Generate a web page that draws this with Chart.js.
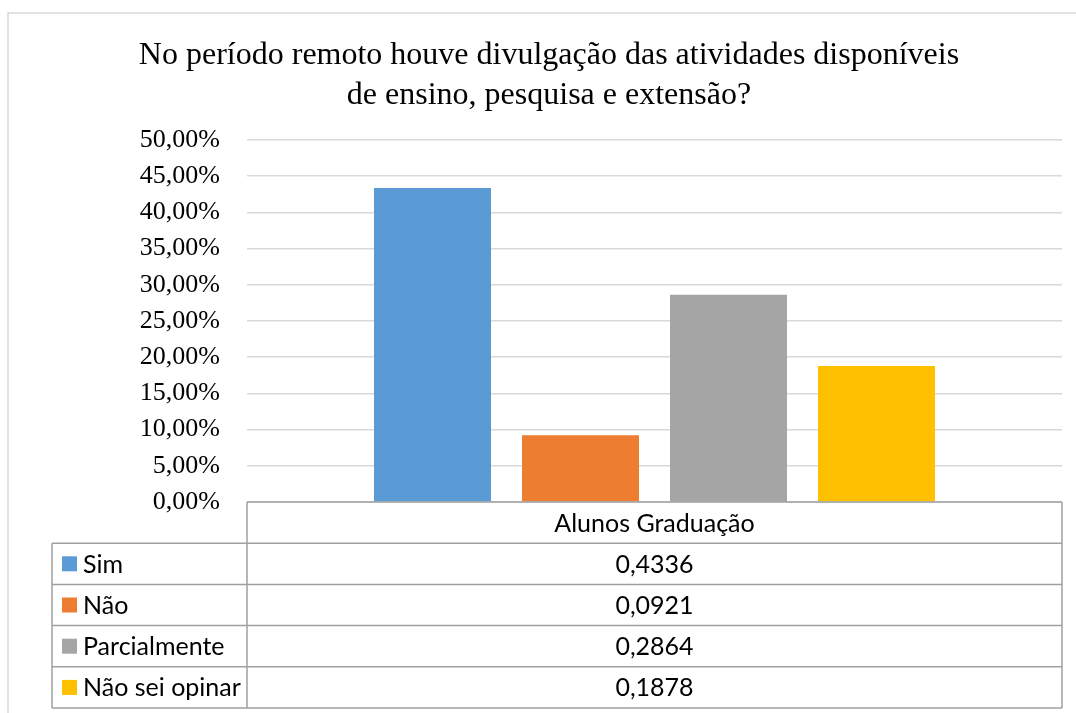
<!DOCTYPE html>
<html>
<head>
<meta charset="utf-8">
<script src="https://cdn.jsdelivr.net/npm/chart.js@4.4.0/dist/chart.umd.min.js"></script>
<style>
  html, body { margin: 0; padding: 0; background: #fff; }
  #wrap { width: 1076px; height: 713px; }
</style>
</head>
<body>
<div id="wrap"><canvas id="chart" width="1076" height="713"></canvas></div>
<script>
// ---- data ----
const categories = ['Alunos Graduação'];
const seriesNames = ['Sim', 'Não', 'Parcialmente', 'Não sei opinar'];
const seriesValues = [0.4336, 0.0921, 0.2864, 0.1878];
const seriesColors = ['#5b9bd5', '#ed7d31', '#a5a5a5', '#ffc000'];
const titleLines = ['No período remoto houve divulgação das atividades disponíveis', 'de ensino, pesquisa e extensão?'];

const tableFont = '25px Lato';

function fmtPct(v) {
    return (v * 100).toFixed(2).replace('.', ',') + '%';
}
function fmtVal(v) {
    return v.toFixed(4).replace('.', ',');
}

// draws the outer frame and the data table under the plot
const dataTable = {
    id: 'dataTable',
    afterDraw(chart) {
        const c = chart.ctx;
        const area = chart.chartArea;
        const left = 52, mid = area.left, right = area.right;
        const top = area.bottom, rowH = 41.2;
        const rows = seriesNames.length;

        c.save();
        // chart frame
        c.strokeStyle = '#d9d9d9';
        c.lineWidth = 1.5;
        c.beginPath();
        c.moveTo(8, 713);
        c.lineTo(8, 13);
        c.lineTo(1076, 13);
        c.stroke();

        // table grid
        c.strokeStyle = '#a0a0a0';
        c.lineWidth = 1.5;
        c.beginPath();
        c.moveTo(mid, top);
        c.lineTo(right, top);
        for (let i = 1; i <= rows + 1; i++) {
            const y = top + i * rowH;
            c.moveTo(left, y);
            c.lineTo(right, y);
        }
        c.moveTo(mid, top);
        c.lineTo(mid, top + (rows + 1) * rowH);
        c.moveTo(right, top);
        c.lineTo(right, top + (rows + 1) * rowH);
        c.moveTo(left, top + rowH);
        c.lineTo(left, top + (rows + 1) * rowH);
        c.stroke();

        // texts
        c.fillStyle = '#000';
        c.font = tableFont;
        c.textBaseline = 'middle';
        c.textAlign = 'center';
        const cx = (mid + right) / 2;
        c.fillText(categories[0], cx, top + rowH / 2 + 1);
        seriesNames.forEach((name, i) => {
            const cy = top + (i + 1.5) * rowH;
            c.fillStyle = seriesColors[i];
            c.fillRect(62, cy - 7.5, 15, 15);
            c.fillStyle = '#000';
            c.textAlign = 'left';
            c.fillText(name, 83, cy + 1);
            c.textAlign = 'center';
            c.fillText(fmtVal(seriesValues[i]), cx, cy + 1);
        });
        c.restore();
    }
};

const ctx = document.getElementById('chart').getContext('2d');
new Chart(ctx, {
    type: 'bar',
    data: {
        labels: categories,
        datasets: seriesNames.map((name, i) => ({
            label: name,
            data: [seriesValues[i]],
            backgroundColor: seriesColors[i],
            borderWidth: 0,
            categoryPercentage: 0.7264,
            barPercentage: 0.7905
        }))
    },
    options: {
        responsive: false,
        animation: false,
        layout: { padding: { left: 36, right: 14, top: 0, bottom: 211 } },
        plugins: {
            legend: { display: false },
            tooltip: { enabled: false },
            title: {
                display: true,
                text: titleLines,
                color: '#000',
                font: { family: 'Liberation Serif', size: 32, weight: 'normal', lineHeight: 1.25 },
                padding: { top: 36, bottom: 24 }
            }
        },
        scales: {
            x: { display: false },
            y: {
                min: 0,
                max: 0.5,
                afterFit(scale) { scale.width = 211; },
                ticks: {
                    stepSize: 0.05,
                    padding: 27,
                    color: '#000',
                    font: { family: 'Liberation Serif', size: 26 },
                    callback: (v) => fmtPct(v)
                },
                grid: { color: '#d9d9d9', lineWidth: 1.5, drawTicks: false },
                border: { display: false }
            }
        }
    },
    plugins: [dataTable]
});
</script>
</body>
</html>
